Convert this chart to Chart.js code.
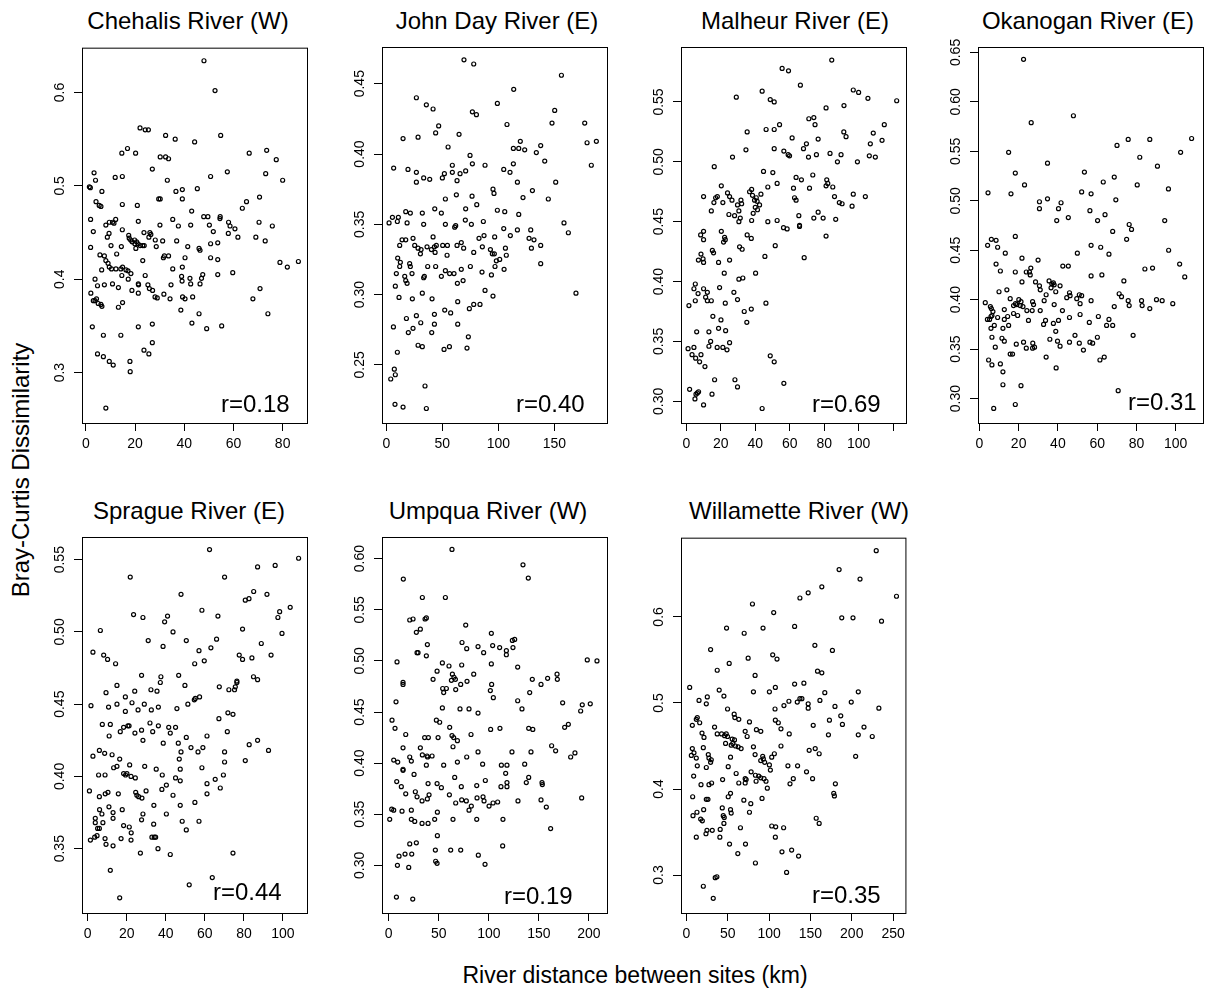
<!DOCTYPE html>
<html>
<head>
<meta charset="utf-8">
<script src="https://cdn.jsdelivr.net/npm/chart.js@4.4.1/dist/chart.umd.min.js"></script>
<style>
  body { margin: 0; width: 1206px; height: 988px; overflow: hidden; background: #fff; position: relative;
         font-family: 'Liberation Sans', Arial, sans-serif; color: #000; }
  canvas { position: absolute; }
  .txt { position: absolute; font-size: 24px; line-height: 24px; white-space: nowrap; }
</style>
</head>
<body>
<script>
// river distance (km), Bray-Curtis dissimilarity
const chehalis = [[48.0,0.634],[52.5,0.602],[54.8,0.554],[22.0,0.562],[24.1,0.560],[25.4,0.560],[32.4,0.554],[36.3,0.550],[44.2,0.547],[16.9,0.540],[14.6,0.535],[20.2,0.535],[30.2,0.531],[32.4,0.531],[33.6,0.529],[27.0,0.518],[11.9,0.509],[14.8,0.510],[3.3,0.514],[3.9,0.506],[1.4,0.499],[1.8,0.498],[50.7,0.510],[57.5,0.515],[73.5,0.538],[77.4,0.528],[73.1,0.513],[80.0,0.506],[66.4,0.535],[33.1,0.506],[45.3,0.497],[36.6,0.494],[39.2,0.496],[39.2,0.486],[6.5,0.494],[4.1,0.483],[5.4,0.479],[6.1,0.478],[14.8,0.480],[20.9,0.479],[29.6,0.486],[30.2,0.486],[43.0,0.473],[47.9,0.467],[49.6,0.467],[54.6,0.467],[54.5,0.465],[65.3,0.483],[63.6,0.476],[70.6,0.488],[70.4,0.461],[58.0,0.461],[58.6,0.457],[60.6,0.454],[61.8,0.445],[57.9,0.449],[75.8,0.457],[69.1,0.445],[72.9,0.441],[1.9,0.464],[3.0,0.451],[1.9,0.434],[8.1,0.458],[9.5,0.461],[10.8,0.461],[12.1,0.464],[11.4,0.460],[9.4,0.449],[8.7,0.445],[10.2,0.436],[14.8,0.453],[14.4,0.435],[12.5,0.427],[5.7,0.426],[7.5,0.425],[8.1,0.420],[9.0,0.417],[6.4,0.410],[9.5,0.413],[10.4,0.411],[12.2,0.411],[14.2,0.411],[14.9,0.413],[14.6,0.404],[16.3,0.410],[17.1,0.409],[18.3,0.406],[17.4,0.447],[17.6,0.444],[18.2,0.442],[18.8,0.440],[19.8,0.442],[20.6,0.440],[19.9,0.438],[21.2,0.438],[22.1,0.436],[20.3,0.433],[23.1,0.436],[21.3,0.462],[23.6,0.450],[26.0,0.450],[26.4,0.448],[25.6,0.445],[23.7,0.436],[23.1,0.420],[28.2,0.442],[28.6,0.435],[31.2,0.441],[30.1,0.458],[31.5,0.423],[31.9,0.425],[33.6,0.425],[36.9,0.441],[37.6,0.457],[35.3,0.464],[35.3,0.411],[39.2,0.413],[40.3,0.423],[41.4,0.435],[42.6,0.458],[46.0,0.433],[46.4,0.431],[50.7,0.438],[51.8,0.451],[50.2,0.458],[53.6,0.439],[50.7,0.423],[53.6,0.421],[53.6,0.405],[59.7,0.407],[42.3,0.401],[42.6,0.395],[47.0,0.401],[46.4,0.395],[47.5,0.405],[39.1,0.398],[38.9,0.403],[39.3,0.381],[40.3,0.379],[43.4,0.381],[34.2,0.379],[34.6,0.394],[31.7,0.384],[28.1,0.381],[29.0,0.380],[27.1,0.388],[25.8,0.390],[25.2,0.394],[24.1,0.404],[21.3,0.395],[21.4,0.394],[21.3,0.385],[18.7,0.388],[17.2,0.400],[13.2,0.391],[10.8,0.395],[7.5,0.394],[4.7,0.393],[3.7,0.400],[2.0,0.385],[3.0,0.377],[3.7,0.377],[4.3,0.379],[5.0,0.374],[6.1,0.373],[6.5,0.371],[14.9,0.375],[13.2,0.370],[2.6,0.349],[7.1,0.340],[14.2,0.340],[21.3,0.349],[27.0,0.352],[38.6,0.367],[46.0,0.363],[43.1,0.353],[49.1,0.347],[55.2,0.350],[74.0,0.363],[67.9,0.379],[70.8,0.390],[78.9,0.418],[81.9,0.413],[86.4,0.419],[4.7,0.320],[7.1,0.317],[9.5,0.312],[11.1,0.308],[17.9,0.312],[18.0,0.301],[23.6,0.324],[25.6,0.320],[27.0,0.332],[8.1,0.262]];

const johnDay = [[69.3,0.467],[78.0,0.464],[156.3,0.456],[113.7,0.446],[26.8,0.440],[35.7,0.435],[41.7,0.432],[99.1,0.436],[76.8,0.430],[80.4,0.428],[150.3,0.431],[147.9,0.422],[177.1,0.422],[107.7,0.421],[46.7,0.420],[44.0,0.415],[64.9,0.414],[14.9,0.411],[28.3,0.412],[55.1,0.405],[119.6,0.409],[113.4,0.404],[118.2,0.404],[123.5,0.403],[137.8,0.406],[133.9,0.401],[141.4,0.395],[179.2,0.408],[187.5,0.409],[183.0,0.392],[74.7,0.399],[76.8,0.393],[88.1,0.392],[113.4,0.393],[6.5,0.390],[19.3,0.389],[26.8,0.387],[26.8,0.380],[33.3,0.383],[38.7,0.382],[50.0,0.383],[51.8,0.386],[58.9,0.392],[58.9,0.387],[65.8,0.386],[70.8,0.388],[63.1,0.381],[104.8,0.389],[110.4,0.387],[117.0,0.380],[151.2,0.380],[122.0,0.369],[130.4,0.374],[144.6,0.368],[95.2,0.375],[96.1,0.372],[62.5,0.371],[52.7,0.368],[76.5,0.370],[80.7,0.364],[70.8,0.361],[43.2,0.361],[99.1,0.360],[105.7,0.359],[118.2,0.357],[17.3,0.359],[21.4,0.358],[5.4,0.355],[10.7,0.355],[18.5,0.351],[2.4,0.351],[9.8,0.352],[32.1,0.358],[33.3,0.350],[49.1,0.358],[52.7,0.350],[61.0,0.348],[61.9,0.349],[70.5,0.353],[75.9,0.350],[86.6,0.352],[104.8,0.347],[110.7,0.342],[117.0,0.346],[128.9,0.346],[158.6,0.351],[162.5,0.344],[11.9,0.335],[14.0,0.339],[17.3,0.339],[23.8,0.340],[25.3,0.335],[28.3,0.333],[31.0,0.332],[36.3,0.334],[40.2,0.332],[41.7,0.341],[42.9,0.334],[43.5,0.330],[44.6,0.335],[30.4,0.329],[50.3,0.335],[54.5,0.335],[54.2,0.328],[63.1,0.335],[66.9,0.337],[69.0,0.333],[82.7,0.340],[87.2,0.342],[85.7,0.334],[78.0,0.330],[92.9,0.332],[96.7,0.341],[94.6,0.329],[96.4,0.329],[98.2,0.324],[101.2,0.325],[97.0,0.320],[93.8,0.314],[105.1,0.318],[107.1,0.328],[106.3,0.333],[127.4,0.340],[131.8,0.339],[129.5,0.333],[137.8,0.335],[137.8,0.322],[10.1,0.326],[12.5,0.323],[11.9,0.320],[8.9,0.315],[16.4,0.313],[17.3,0.310],[18.5,0.308],[20.8,0.322],[21.4,0.320],[22.9,0.315],[33.3,0.312],[33.9,0.313],[36.9,0.320],[44.0,0.320],[49.1,0.313],[52.7,0.317],[56.5,0.315],[60.4,0.315],[63.4,0.308],[68.5,0.310],[66.9,0.318],[75.0,0.320],[85.4,0.316],[8.0,0.306],[11.3,0.298],[23.2,0.297],[32.1,0.301],[40.8,0.297],[63.7,0.295],[88.1,0.303],[95.2,0.299],[78.0,0.293],[83.6,0.293],[74.1,0.290],[169.3,0.301],[52.1,0.289],[57.4,0.287],[17.9,0.283],[26.8,0.285],[42.9,0.286],[19.6,0.273],[23.8,0.276],[30.7,0.280],[40.5,0.273],[42.9,0.279],[63.7,0.279],[6.3,0.277],[73.2,0.270],[28.3,0.264],[32.1,0.263],[56.3,0.263],[51.5,0.261],[72.0,0.262],[9.8,0.259],[3.9,0.240],[7.1,0.247],[8.0,0.243],[34.5,0.235],[7.7,0.222],[14.9,0.220],[35.7,0.219]];

const malheur = [[84.4,0.585],[55.6,0.578],[59.3,0.576],[66.2,0.564],[44.0,0.559],[29.0,0.554],[48.7,0.552],[51.0,0.550],[96.9,0.560],[100.0,0.558],[105.4,0.553],[122.1,0.551],[81.1,0.545],[91.5,0.547],[71.1,0.536],[74.0,0.537],[74.7,0.531],[54.1,0.531],[46.3,0.527],[51.0,0.527],[35.3,0.525],[61.4,0.520],[76.5,0.519],[91.4,0.525],[92.7,0.521],[108.5,0.524],[114.9,0.531],[113.6,0.518],[106.8,0.515],[51.0,0.511],[68.0,0.511],[69.7,0.515],[34.6,0.510],[56.6,0.509],[59.1,0.506],[59.9,0.505],[70.9,0.504],[75.5,0.506],[83.4,0.507],[89.8,0.506],[87.7,0.500],[99.3,0.500],[106.2,0.505],[109.7,0.504],[26.8,0.504],[16.2,0.496],[44.8,0.492],[50.2,0.491],[52.7,0.482],[63.7,0.487],[66.8,0.485],[73.4,0.489],[62.2,0.478],[62.8,0.470],[63.7,0.468],[71.5,0.478],[81.5,0.485],[82.1,0.482],[81.1,0.480],[85.0,0.479],[86.0,0.471],[88.8,0.466],[90.4,0.465],[96.2,0.463],[96.9,0.473],[103.9,0.471],[86.7,0.452],[79.4,0.453],[76.5,0.458],[74.0,0.453],[65.7,0.447],[65.7,0.446],[65.3,0.455],[56.4,0.445],[58.5,0.444],[81.1,0.438],[68.4,0.420],[47.3,0.450],[52.7,0.451],[51.6,0.430],[45.6,0.421],[40.0,0.462],[41.3,0.460],[42.5,0.464],[43.3,0.473],[47.3,0.479],[36.7,0.475],[37.9,0.477],[38.4,0.472],[39.6,0.468],[40.6,0.470],[41.1,0.467],[38.8,0.457],[37.9,0.451],[37.7,0.436],[35.3,0.439],[40.2,0.407],[10.0,0.471],[16.0,0.466],[17.0,0.470],[18.0,0.471],[20.3,0.480],[21.2,0.466],[23.9,0.474],[25.1,0.471],[26.5,0.468],[24.7,0.456],[28.0,0.455],[29.7,0.464],[30.5,0.459],[30.5,0.450],[31.3,0.453],[31.7,0.468],[32.1,0.465],[14.5,0.459],[20.3,0.442],[22.2,0.437],[22.6,0.435],[21.6,0.433],[30.9,0.429],[32.4,0.427],[25.1,0.418],[18.7,0.416],[22.0,0.407],[15.1,0.426],[15.8,0.424],[8.3,0.439],[10.0,0.442],[10.0,0.435],[8.5,0.423],[7.0,0.418],[9.7,0.419],[10.0,0.416],[30.5,0.402],[32.8,0.403],[19.3,0.395],[27.6,0.391],[29.7,0.385],[22.6,0.382],[5.2,0.398],[4.4,0.394],[6.8,0.390],[1.5,0.380],[5.2,0.384],[10.0,0.394],[12.2,0.391],[12.2,0.384],[14.5,0.384],[11.2,0.387],[46.2,0.382],[33.6,0.375],[35.1,0.366],[37.7,0.377],[15.4,0.371],[20.1,0.368],[18.7,0.361],[22.8,0.359],[6.0,0.358],[13.1,0.358],[14.1,0.350],[13.1,0.346],[17.9,0.345],[21.2,0.345],[23.6,0.343],[25.1,0.349],[1.0,0.344],[4.4,0.345],[3.3,0.339],[5.4,0.336],[7.7,0.333],[8.5,0.339],[10.8,0.329],[48.7,0.338],[51.0,0.333],[56.6,0.315],[16.4,0.318],[28.2,0.318],[29.7,0.312],[1.9,0.310],[5.6,0.306],[6.4,0.307],[7.1,0.308],[5.0,0.302],[14.9,0.306],[10.0,0.297],[44.0,0.294]];

const okanogan = [[22.5,0.643],[47.9,0.586],[26.4,0.579],[108.1,0.563],[75.8,0.562],[86.8,0.562],[70.1,0.556],[14.9,0.549],[102.5,0.549],[81.7,0.544],[34.7,0.538],[90.7,0.535],[53.5,0.529],[18.3,0.528],[68.7,0.524],[63.1,0.519],[23.0,0.516],[80.4,0.516],[96.3,0.512],[4.4,0.508],[16.1,0.507],[52.1,0.509],[56.9,0.507],[34.7,0.502],[30.6,0.499],[30.6,0.492],[41.6,0.498],[40.3,0.492],[69.5,0.501],[56.3,0.490],[64.0,0.486],[45.3,0.483],[60.2,0.480],[39.4,0.480],[94.4,0.480],[76.3,0.476],[77.5,0.471],[67.9,0.469],[18.3,0.464],[75.0,0.461],[6.1,0.461],[8.5,0.460],[4.2,0.455],[9.3,0.453],[56.9,0.455],[61.8,0.453],[66.0,0.446],[49.9,0.447],[13.2,0.447],[96.4,0.450],[21.7,0.442],[29.9,0.440],[8.5,0.436],[10.7,0.429],[18.3,0.428],[23.9,0.428],[25.5,0.428],[25.9,0.425],[26.2,0.432],[42.5,0.434],[45.3,0.434],[56.9,0.424],[62.4,0.425],[84.3,0.431],[88.2,0.432],[102.0,0.436],[104.6,0.423],[73.6,0.419],[21.7,0.418],[28.6,0.418],[30.6,0.414],[31.0,0.410],[35.5,0.419],[36.9,0.416],[37.7,0.417],[38.1,0.415],[36.5,0.412],[38.9,0.408],[41.1,0.414],[14.0,0.410],[10.0,0.408],[34.0,0.405],[45.9,0.407],[46.2,0.404],[44.5,0.402],[50.9,0.405],[52.1,0.404],[49.6,0.401],[51.3,0.396],[56.9,0.399],[71.2,0.406],[72.4,0.403],[75.8,0.399],[76.3,0.394],[82.6,0.399],[82.9,0.394],[86.8,0.391],[90.2,0.400],[93.1,0.399],[98.5,0.396],[68.7,0.393],[3.0,0.397],[5.6,0.393],[6.1,0.391],[6.9,0.388],[6.4,0.384],[4.1,0.380],[5.2,0.380],[5.9,0.383],[9.3,0.382],[7.6,0.374],[5.9,0.371],[6.4,0.362],[12.7,0.390],[12.7,0.380],[14.4,0.383],[14.9,0.374],[12.0,0.371],[15.7,0.401],[17.4,0.394],[18.4,0.396],[20.1,0.400],[21.2,0.398],[20.8,0.394],[19.1,0.395],[22.2,0.393],[19.5,0.384],[17.4,0.386],[27.1,0.398],[27.6,0.395],[26.9,0.389],[24.2,0.389],[25.0,0.379],[31.0,0.389],[33.0,0.399],[32.7,0.375],[33.7,0.379],[38.1,0.395],[42.3,0.389],[37.7,0.376],[40.3,0.379],[38.9,0.368],[39.8,0.358],[35.9,0.360],[41.1,0.353],[45.9,0.382],[48.7,0.364],[50.9,0.356],[53.0,0.349],[51.3,0.385],[56.0,0.377],[45.9,0.357],[56.3,0.357],[57.7,0.356],[60.1,0.362],[60.6,0.383],[66.0,0.380],[64.8,0.374],[67.9,0.374],[61.4,0.339],[63.6,0.342],[78.3,0.364],[18.8,0.355],[22.5,0.357],[23.9,0.351],[27.2,0.356],[28.1,0.352],[27.1,0.351],[8.1,0.352],[11.5,0.361],[12.7,0.358],[15.7,0.345],[16.9,0.345],[4.7,0.339],[6.4,0.334],[10.7,0.335],[12.0,0.327],[34.0,0.342],[39.1,0.331],[12.0,0.314],[21.2,0.313],[18.3,0.294],[7.3,0.290],[70.7,0.308]];

const sprague = [[62.4,0.557],[108.0,0.551],[87.0,0.545],[96.0,0.546],[21.8,0.538],[70.1,0.538],[47.8,0.526],[91.8,0.526],[85.0,0.528],[80.7,0.522],[82.6,0.523],[103.7,0.517],[58.5,0.515],[23.5,0.512],[28.3,0.510],[40.9,0.511],[39.4,0.507],[66.7,0.511],[98.3,0.514],[97.4,0.510],[6.5,0.501],[43.7,0.500],[79.3,0.502],[99.5,0.499],[31.0,0.494],[50.5,0.494],[63.1,0.489],[66.0,0.495],[38.6,0.490],[88.9,0.492],[57.0,0.487],[2.7,0.486],[8.2,0.484],[10.2,0.481],[14.3,0.478],[54.8,0.478],[59.7,0.480],[77.6,0.484],[79.3,0.481],[84.1,0.482],[93.9,0.484],[27.6,0.470],[37.5,0.469],[37.2,0.465],[46.6,0.470],[49.8,0.463],[84.9,0.469],[87.0,0.467],[67.4,0.462],[72.3,0.460],[75.2,0.460],[76.4,0.466],[76.4,0.465],[75.6,0.462],[15.0,0.463],[9.4,0.458],[24.1,0.459],[32.4,0.460],[35.5,0.459],[19.3,0.455],[15.0,0.450],[22.7,0.451],[29.0,0.450],[1.7,0.449],[10.7,0.448],[25.8,0.446],[19.3,0.445],[32.6,0.446],[36.2,0.448],[45.7,0.447],[54.6,0.453],[55.1,0.454],[57.3,0.455],[51.3,0.450],[71.8,0.444],[74.4,0.443],[67.2,0.440],[71.5,0.431],[7.5,0.436],[11.6,0.436],[11.0,0.428],[16.7,0.431],[18.4,0.434],[20.6,0.435],[21.2,0.435],[24.2,0.430],[27.6,0.432],[28.3,0.425],[31.9,0.437],[33.3,0.431],[36.2,0.435],[41.5,0.434],[42.3,0.430],[45.0,0.434],[38.7,0.423],[50.5,0.427],[46.4,0.423],[61.1,0.428],[52.9,0.420],[59.0,0.420],[56.5,0.417],[47.8,0.417],[70.1,0.417],[70.1,0.410],[80.7,0.411],[82.7,0.422],[87.0,0.425],[92.6,0.418],[2.7,0.414],[6.0,0.418],[8.7,0.416],[12.5,0.415],[16.4,0.412],[15.0,0.407],[13.3,0.406],[21.5,0.408],[29.2,0.407],[35.1,0.405],[46.9,0.412],[47.4,0.405],[58.5,0.406],[5.6,0.401],[8.9,0.401],[18.4,0.402],[19.4,0.401],[20.1,0.402],[22.2,0.400],[24.4,0.399],[38.2,0.401],[45.0,0.399],[47.4,0.397],[40.3,0.394],[61.1,0.395],[65.3,0.398],[69.5,0.401],[67.9,0.392],[61.1,0.388],[0.9,0.390],[6.0,0.386],[9.0,0.388],[10.4,0.389],[15.7,0.388],[24.6,0.389],[25.2,0.387],[26.1,0.386],[27.8,0.385],[29.9,0.390],[38.0,0.391],[43.7,0.387],[54.9,0.382],[33.9,0.380],[47.4,0.380],[10.9,0.379],[6.1,0.377],[7.3,0.374],[17.7,0.377],[13.0,0.375],[13.0,0.371],[28.3,0.374],[27.6,0.370],[40.3,0.374],[3.9,0.371],[3.9,0.368],[5.1,0.364],[6.0,0.364],[7.8,0.368],[18.4,0.366],[21.3,0.365],[22.3,0.361],[33.8,0.367],[48.4,0.369],[50.5,0.363],[57.0,0.369],[1.4,0.356],[3.6,0.358],[4.8,0.359],[8.9,0.357],[9.4,0.353],[17.1,0.357],[22.2,0.356],[13.0,0.352],[32.9,0.358],[34.1,0.358],[34.8,0.358],[36.0,0.350],[42.3,0.346],[27.0,0.347],[74.4,0.347],[11.6,0.335],[52.0,0.325],[63.8,0.330],[16.4,0.316]];

const umpqua = [[63.2,0.609],[134.1,0.594],[139.4,0.581],[14.6,0.580],[33.6,0.562],[56.6,0.562],[21.0,0.540],[24.3,0.541],[36.3,0.541],[37.6,0.542],[76.9,0.535],[31.6,0.531],[27.6,0.528],[102.5,0.527],[28.3,0.508],[29.3,0.508],[38.6,0.516],[37.6,0.505],[73.2,0.518],[77.9,0.512],[89.2,0.514],[94.8,0.508],[103.8,0.515],[110.8,0.513],[117.5,0.510],[117.5,0.506],[123.5,0.520],[125.8,0.521],[124.1,0.513],[128.8,0.494],[8.3,0.499],[48.3,0.490],[53.6,0.498],[60.2,0.495],[72.9,0.496],[44.3,0.482],[63.6,0.487],[65.2,0.484],[62.6,0.481],[66.6,0.482],[84.9,0.487],[102.5,0.497],[14.3,0.479],[14.3,0.477],[71.9,0.477],[78.2,0.480],[53.9,0.473],[57.6,0.473],[54.9,0.469],[66.9,0.472],[102.8,0.477],[101.5,0.471],[104.5,0.464],[143.4,0.482],[152.1,0.477],[158.7,0.483],[168.1,0.487],[168.4,0.482],[140.8,0.469],[7.3,0.460],[53.6,0.454],[71.2,0.453],[80.2,0.453],[89.2,0.449],[128.8,0.461],[133.1,0.453],[173.7,0.459],[191.7,0.451],[193.3,0.457],[201.3,0.458],[198.3,0.501],[208.0,0.500],[3.3,0.442],[6.3,0.434],[47.6,0.442],[50.9,0.440],[60.9,0.435],[101.8,0.433],[111.1,0.434],[139.8,0.434],[143.9,0.433],[175.7,0.435],[179.4,0.438],[17.0,0.428],[63.2,0.427],[64.9,0.425],[68.6,0.422],[35.9,0.425],[39.6,0.425],[49.3,0.425],[82.2,0.428],[64.2,0.416],[14.3,0.415],[31.6,0.415],[33.6,0.408],[38.3,0.407],[38.9,0.406],[43.3,0.407],[21.0,0.406],[22.6,0.402],[5.0,0.403],[9.0,0.401],[37.6,0.398],[54.9,0.398],[68.6,0.401],[77.9,0.406],[89.2,0.411],[93.8,0.399],[123.1,0.411],[142.1,0.411],[162.7,0.417],[166.7,0.412],[181.7,0.406],[186.0,0.410],[112.5,0.398],[118.1,0.398],[135.8,0.399],[116.8,0.390],[14.3,0.394],[14.3,0.393],[25.3,0.389],[8.0,0.382],[12.6,0.377],[39.3,0.380],[48.3,0.380],[52.6,0.376],[65.9,0.386],[72.5,0.377],[87.9,0.378],[96.5,0.383],[112.1,0.377],[118.1,0.381],[118.1,0.377],[137.4,0.381],[139.8,0.386],[153.1,0.381],[153.4,0.379],[17.0,0.370],[26.6,0.372],[28.3,0.367],[33.3,0.363],[38.6,0.365],[40.3,0.369],[60.6,0.369],[66.9,0.361],[72.9,0.364],[77.5,0.363],[82.5,0.358],[80.2,0.354],[88.2,0.366],[94.2,0.367],[95.2,0.363],[100.2,0.358],[104.2,0.361],[108.8,0.362],[129.1,0.363],[152.1,0.364],[157.4,0.357],[192.7,0.366],[3.0,0.355],[5.0,0.354],[13.3,0.353],[22.6,0.354],[1.0,0.345],[22.6,0.345],[26.0,0.343],[33.3,0.341],[39.3,0.341],[45.9,0.345],[48.6,0.352],[64.2,0.345],[87.9,0.345],[114.1,0.345],[161.7,0.336],[48.6,0.329],[27.6,0.322],[21.0,0.321],[23.0,0.311],[16.3,0.311],[10.3,0.309],[8.7,0.300],[20.0,0.298],[46.6,0.315],[46.9,0.304],[48.3,0.302],[61.9,0.315],[71.9,0.315],[89.5,0.310],[96.2,0.301],[113.8,0.319],[7.7,0.269],[24.0,0.267]];

const willamette = [[229.6,0.677],[184.7,0.655],[210.0,0.644],[163.8,0.635],[147.3,0.628],[137.3,0.622],[254.1,0.624],[79.9,0.615],[105.6,0.605],[187.9,0.599],[201.5,0.599],[236.0,0.595],[130.9,0.589],[48.6,0.587],[92.7,0.587],[69.9,0.581],[155.4,0.567],[176.6,0.561],[29.3,0.562],[51.8,0.546],[104.4,0.556],[109.6,0.551],[74.7,0.552],[37.3,0.538],[158.6,0.537],[163.8,0.535],[83.1,0.532],[4.0,0.518],[39.7,0.515],[45.4,0.508],[81.1,0.513],[100.4,0.513],[107.6,0.518],[130.9,0.522],[142.1,0.523],[167.4,0.512],[207.9,0.513],[15.3,0.503],[25.3,0.507],[24.1,0.499],[124.0,0.502],[134.1,0.501],[137.3,0.505],[139.7,0.505],[118.0,0.497],[107.2,0.493],[49.8,0.493],[147.3,0.499],[147.3,0.494],[161.5,0.503],[199.4,0.501],[179.7,0.496],[232.8,0.494],[13.2,0.483],[12.0,0.481],[16.1,0.477],[7.2,0.474],[57.8,0.487],[58.6,0.483],[63.4,0.481],[76.3,0.478],[107.6,0.480],[111.2,0.477],[114.4,0.470],[153.4,0.474],[173.0,0.480],[186.7,0.485],[188.7,0.475],[214.8,0.472],[18.9,0.465],[21.3,0.460],[34.1,0.472],[37.3,0.464],[42.6,0.464],[46.2,0.462],[48.2,0.464],[49.8,0.461],[47.4,0.453],[55.4,0.458],[56.2,0.453],[58.2,0.457],[59.4,0.450],[54.2,0.451],[62.6,0.449],[66.2,0.447],[71.1,0.467],[73.5,0.461],[84.7,0.469],[90.0,0.467],[124.4,0.464],[171.8,0.463],[207.9,0.463],[224.8,0.461],[20.5,0.448],[6.0,0.439],[7.2,0.447],[9.2,0.442],[12.0,0.436],[13.2,0.427],[26.5,0.440],[27.3,0.436],[30.1,0.434],[29.3,0.431],[24.1,0.425],[53.4,0.437],[50.6,0.426],[81.1,0.449],[83.1,0.440],[92.3,0.438],[89.9,0.433],[94.7,0.431],[93.1,0.435],[103.2,0.437],[106.4,0.441],[114.4,0.450],[148.5,0.445],[155.8,0.447],[160.6,0.441],[204.7,0.438],[100.4,0.428],[101.6,0.422],[122.8,0.427],[134.5,0.427],[145.3,0.420],[152.6,0.412],[129.3,0.412],[125.3,0.406],[180.2,0.406],[78.3,0.420],[83.5,0.416],[87.5,0.415],[89.9,0.413],[84.3,0.409],[93.9,0.412],[96.3,0.409],[97.9,0.401],[60.2,0.418],[71.1,0.412],[72.3,0.411],[63.4,0.407],[71.1,0.407],[8.8,0.415],[17.7,0.405],[27.3,0.405],[30.5,0.407],[43.8,0.411],[53.4,0.395],[50.6,0.391],[91.5,0.389],[178.2,0.395],[179.0,0.392],[7.6,0.391],[24.1,0.388],[26.1,0.388],[69.5,0.387],[77.9,0.383],[76.3,0.373],[43.4,0.378],[53.4,0.376],[54.2,0.372],[44.6,0.369],[45.8,0.367],[8.0,0.369],[12.8,0.373],[20.9,0.376],[17.3,0.365],[19.3,0.363],[45.4,0.360],[40.9,0.353],[12.0,0.344],[23.7,0.348],[24.9,0.352],[31.3,0.352],[40.5,0.344],[65.4,0.355],[103.2,0.357],[108.0,0.356],[117.6,0.355],[107.6,0.344],[157.0,0.366],[160.6,0.360],[52.2,0.336],[71.5,0.336],[62.2,0.325],[115.6,0.327],[127.3,0.329],[135.7,0.322],[83.5,0.314],[121.2,0.303],[34.9,0.297],[36.9,0.298],[20.5,0.287],[32.5,0.273]];

const riverNames = ['Chehalis River (W)', 'John Day River (E)', 'Malheur River (E)', 'Okanogan River (E)',
                    'Sprague River (E)', 'Umpqua River (W)', 'Willamette River (W)'];
const rValues = ['r=0.18', 'r=0.40', 'r=0.69', 'r=0.31', 'r=0.44', 'r=0.19', 'r=0.35'];
const series = [chehalis, johnDay, malheur, okanogan, sprague, umpqua, willamette];

const xTicks = [[0, 20, 40, 60, 80], [0, 50, 100, 150], [0, 20, 40, 60, 80, 100, 120], [0, 20, 40, 60, 80, 100],
                [0, 20, 40, 60, 80, 100], [0, 50, 100, 150, 200], [0, 50, 100, 150, 200, 250]];
const xTickLabels = [['0', '20', '40', '60', '80'], ['0', '50', '100', '150'], ['0', '20', '40', '60', '80', '100', ''],
                     ['0', '20', '40', '60', '80', '100'], ['0', '20', '40', '60', '80', '100'],
                     ['0', '50', '100', '150', '200'], ['0', '50', '100', '150', '200', '250']];
const yTicks = [[0.3, 0.4, 0.5, 0.6], [0.25, 0.30, 0.35, 0.40, 0.45], [0.30, 0.35, 0.40, 0.45, 0.50, 0.55],
                [0.30, 0.35, 0.40, 0.45, 0.50, 0.55, 0.60, 0.65], [0.35, 0.40, 0.45, 0.50, 0.55],
                [0.30, 0.35, 0.40, 0.45, 0.50, 0.55, 0.60], [0.3, 0.4, 0.5, 0.6]];
const yTickLabels = [['0.3', '0.4', '0.5', '0.6'], ['0.25', '0.30', '0.35', '0.40', '0.45'],
                     ['0.30', '0.35', '0.40', '0.45', '0.50', '0.55'],
                     ['0.30', '0.35', '0.40', '0.45', '0.50', '0.55', '0.60', '0.65'],
                     ['0.35', '0.40', '0.45', '0.50', '0.55'],
                     ['0.30', '0.35', '0.40', '0.45', '0.50', '0.55', '0.60'], ['0.3', '0.4', '0.5', '0.6']];
const xLimits = [[-1.6, 89.9], [-3.9, 197], [-3.1, 127.5], [-0.7, 113.9], [-2.9, 112.3], [-6.7, 218], [-6.5, 264.9]];
const yLimits = [[0.246, 0.648], [0.2087, 0.4761], [0.2819, 0.5959], [0.2753, 0.6555], [0.3055, 0.5657],
                 [0.2534, 0.6212], [0.2559, 0.6921]];

// page layout: plot box corner, title centre, r label position
const panelLayout = [
  { left: 82, top: 47, titleX: 188, rX: 221, rBase: 412.5 },
  { left: 382, top: 47, titleX: 497, rX: 516, rBase: 412.5 },
  { left: 681, top: 47, titleX: 795, rX: 812, rBase: 412.5 },
  { left: 978, top: 47, titleX: 1088, rX: 1128, rBase: 410 },
  { left: 82, top: 537, titleX: 189, rX: 213, rBase: 900.5 },
  { left: 382, top: 537, titleX: 488, rX: 504, rBase: 904.5 },
  { left: 681, top: 537, titleX: 799, rX: 812, rBase: 903 }
];
const BOX_W = 225, BOX_H = 376;
const AXIS_W = 45, AXIS_H = 34, PAD_TOP = 12, PAD_RIGHT = 4;
const TICK_LEN = 8;

Chart.defaults.font.family = "'Liberation Sans', Arial, sans-serif";
Chart.defaults.font.size = 14;
Chart.defaults.color = '#000';

const measureCtx = document.createElement('canvas').getContext('2d');
measureCtx.font = "14px 'Liberation Sans', Arial, sans-serif";

const boxPlugin = {
  id: 'box',
  afterDraw(chart) {
    const { ctx, chartArea: a } = chart;
    ctx.save();
    ctx.strokeStyle = '#000';
    ctx.lineWidth = 1;
    ctx.strokeRect(a.left + 0.5, a.top + 0.5, a.right - a.left, a.bottom - a.top);
    ctx.restore();
  }
};

function addText(str, left, top, size, extra) {
  const d = document.createElement('div');
  d.className = 'txt';
  d.textContent = str;
  d.style.left = left + 'px';
  d.style.top = top + 'px';
  if (size) { d.style.fontSize = size + 'px'; d.style.lineHeight = size + 'px'; }
  Object.assign(d.style, extra || {});
  document.body.appendChild(d);
  return d;
}

series.forEach((pts, i) => {
  const p = panelLayout[i];
  const canvas = document.createElement('canvas');
  canvas.width = AXIS_W + BOX_W + PAD_RIGHT;
  canvas.height = PAD_TOP + BOX_H + AXIS_H;
  canvas.style.left = (p.left - AXIS_W) + 'px';
  canvas.style.top = (p.top - PAD_TOP) + 'px';
  document.body.appendChild(canvas);

  const widest = Math.max(...yTickLabels[i].map(s => measureCtx.measureText(s).width));

  new Chart(canvas, {
    type: 'scatter',
    data: {
      datasets: [{
        data: pts.map(([x, y]) => ({ x, y })),
        pointRadius: 2,
        pointHoverRadius: 2,
        pointBorderWidth: 1.2,
        borderColor: '#000',
        backgroundColor: 'rgba(0,0,0,0)'
      }]
    },
    options: {
      responsive: false,
      animation: false,
      events: [],
      layout: { padding: { left: 0, top: PAD_TOP, right: PAD_RIGHT, bottom: 0 } },
      plugins: { legend: { display: false }, tooltip: { enabled: false } },
      scales: {
        x: {
          type: 'linear',
          position: 'bottom',
          min: xLimits[i][0],
          max: xLimits[i][1],
          afterBuildTicks: s => { s.ticks = xTicks[i].map(v => ({ value: v })); },
          afterFit: s => { s.height = AXIS_H; },
          border: { display: false },
          grid: { drawOnChartArea: false, drawTicks: true, tickLength: TICK_LEN, color: '#000', lineWidth: 1 },
          ticks: { autoSkip: false, maxRotation: 0, padding: 5, callback: (v, idx) => xTickLabels[i][idx] }
        },
        y: {
          type: 'linear',
          position: 'left',
          min: yLimits[i][0],
          max: yLimits[i][1],
          afterBuildTicks: s => { s.ticks = yTicks[i].map(v => ({ value: v })); },
          afterFit: s => { s.width = AXIS_W; },
          border: { display: false },
          grid: { drawOnChartArea: false, drawTicks: true, tickLength: TICK_LEN, color: '#000', lineWidth: 1 },
          ticks: { autoSkip: false, minRotation: 90, maxRotation: 90, crossAlign: 'center',
                   padding: 14 - widest / 2, callback: (v, idx) => yTickLabels[i][idx] }
        }
      }
    },
    plugins: [boxPlugin]
  });

  const titleBase = p.top - 18;
  addText(riverNames[i], p.titleX - 150, titleBase - 20.3, 24, { width: '300px', textAlign: 'center' });
  addText(rValues[i], p.rX, p.rBase - 20.3, 24);
});

addText('Bray-Curtis Dissimilarity', 21 - 200, 470 - 12, 24,
        { width: '400px', textAlign: 'center', transform: 'rotate(-90deg)', transformOrigin: '50% 50%' });
addText('River distance between sites (km)', 635 - 250, 963.5, 23, { width: '500px', textAlign: 'center' });
</script>
</body>
</html>
